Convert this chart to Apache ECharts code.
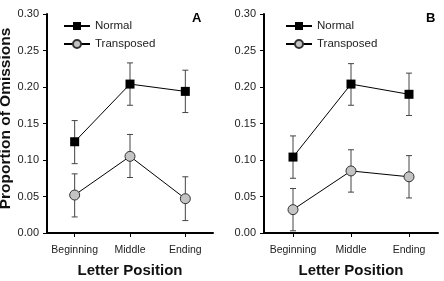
<!DOCTYPE html>
<html>
<head>
<meta charset="utf-8">
<script src="https://cdn.jsdelivr.net/npm/echarts@6/dist/echarts.min.js"></script>
<style>
    html, body { margin: 0; padding: 0; background: #fff; }
    #chart { width: 444px; height: 281px; }
</style>
</head>
<body>
<div id="chart"></div>
<script>
var categorias = ['Beginning', 'Middle', 'Ending'];
var yTicks = [0, 0.05, 0.10, 0.15, 0.20, 0.25, 0.30];

// panel A
var normalA = [0.125, 0.204, 0.194];
var normalALo = [0.095, 0.175, 0.165];
var normalAHi = [0.154, 0.233, 0.223];
var transA = [0.052, 0.105, 0.047];
var transALo = [0.022, 0.076, 0.017];
var transAHi = [0.081, 0.135, 0.077];

// panel B
var normalB = [0.104, 0.204, 0.190];
var normalBLo = [0.075, 0.175, 0.161];
var normalBHi = [0.133, 0.232, 0.219];
var transB = [0.032, 0.085, 0.077];
var transBLo = [0.003, 0.056, 0.048];
var transBHi = [0.061, 0.114, 0.106];

var fuente = "'Liberation Sans', Arial, sans-serif";

function barras(lo, hi) {
    var d = [];
    for (var i = 0; i < lo.length; i++) {
        d.push([i, lo[i], hi[i]]);
    }
    return d;
}

function renderError(params, api) {
    var x = api.value(0);
    var a = api.coord([x, api.value(1)]);
    var b = api.coord([x, api.value(2)]);
    var w = 3;
    var st = {stroke: '#444', lineWidth: 1};
    return {
        type: 'group',
        children: [
            {type: 'line', shape: {x1: a[0], y1: a[1], x2: b[0], y2: b[1]}, style: st},
            {type: 'line', shape: {x1: a[0] - w, y1: a[1], x2: a[0] + w, y2: a[1]}, style: st},
            {type: 'line', shape: {x1: b[0] - w, y1: b[1], x2: b[0] + w, y2: b[1]}, style: st}
        ]
    };
}

function ejeX(idx) {
    return {
        type: 'category',
        gridIndex: idx,
        data: categorias,
        boundaryGap: true,
        axisLine: {lineStyle: {color: '#000', width: 2}},
        axisTick: {show: true, alignWithLabel: true, interval: 0, length: 4, lineStyle: {color: '#000', width: 1}},
        axisLabel: {color: '#222', fontFamily: fuente, fontSize: 10.5, margin: 12, interval: 0},
        name: 'Letter Position',
        nameLocation: 'middle',
        nameGap: 30,
        nameTextStyle: {color: '#111', fontFamily: fuente, fontWeight: 'bold', fontSize: 15}
    };
}

function ejeY(idx, showName) {
    var e = {
        type: 'value',
        gridIndex: idx,
        min: 0,
        max: 0.30,
        interval: 0.05,
        splitLine: {show: false},
        axisLine: {show: true, lineStyle: {color: '#000', width: 2}},
        axisTick: {show: true, length: 4, lineStyle: {color: '#000', width: 1}},
        axisLabel: {
            color: '#222', fontFamily: fuente, fontSize: 11, margin: 8,
            formatter: function (v) { return v.toFixed(2); }
        }
    };
    if (showName) {
        e.name = 'Proportion of Omissions';
        e.nameLocation = 'middle';
        e.nameGap = 32;
        e.nameTextStyle = {color: '#111', fontFamily: fuente, fontWeight: 'bold', fontSize: 15.5, padding: [0, 0, 0, 10]};
    }
    return e;
}

function serieNormal(idx, data) {
    return {
        name: 'Normal', type: 'line', xAxisIndex: idx, yAxisIndex: idx,
        data: data, symbol: 'rect', symbolSize: 9, z: 5,
        lineStyle: {color: '#000', width: 1},
        itemStyle: {color: '#000', borderColor: '#000', borderWidth: 0}
    };
}

function serieTrans(idx, data) {
    return {
        name: 'Transposed', type: 'line', xAxisIndex: idx, yAxisIndex: idx,
        data: data, symbol: 'circle', symbolSize: 10, z: 5,
        lineStyle: {color: '#000', width: 1},
        itemStyle: {color: '#c4c4c4', borderColor: '#333', borderWidth: 1}
    };
}

function serieError(idx, lo, hi) {
    return {
        type: 'custom', xAxisIndex: idx, yAxisIndex: idx, z: 2,
        renderItem: renderError, data: barras(lo, hi), silent: true
    };
}

function leyenda(left) {
    return {
        data: ['Normal', 'Transposed'],
        orient: 'vertical',
        left: left,
        top: 15,
        itemWidth: 26,
        itemHeight: 10,
        itemGap: 6,
        textStyle: {color: '#222', fontFamily: fuente, fontSize: 11.5},
        selectedMode: false
    };
}

var myChart = echarts.init(document.getElementById('chart'), null, {renderer: 'canvas'});
myChart.setOption({
    backgroundColor: '#fff',
    animation: false,
    title: [
        {text: 'A', left: 187, top: 7, textStyle: {fontFamily: fuente, fontWeight: 'bold', fontSize: 13, color: '#000'}},
        {text: 'B', left: 421, top: 7, textStyle: {fontFamily: fuente, fontWeight: 'bold', fontSize: 13, color: '#000'}}
    ],
    legend: [leyenda(58), leyenda(280)],
    grid: [
        {left: 47, top: 14, width: 166, height: 219, outerBoundsMode: 'none'},
        {left: 264, top: 14, width: 174, height: 219, outerBoundsMode: 'none'}
    ],
    xAxis: [ejeX(0), ejeX(1)],
    yAxis: [ejeY(0, true), ejeY(1, false)],
    series: [
        serieError(0, normalALo, normalAHi),
        serieError(0, transALo, transAHi),
        serieNormal(0, normalA),
        serieTrans(0, transA),
        serieError(1, normalBLo, normalBHi),
        serieError(1, transBLo, transBHi),
        serieNormal(1, normalB),
        serieTrans(1, transB)
    ]
});
</script>
</body>
</html>
